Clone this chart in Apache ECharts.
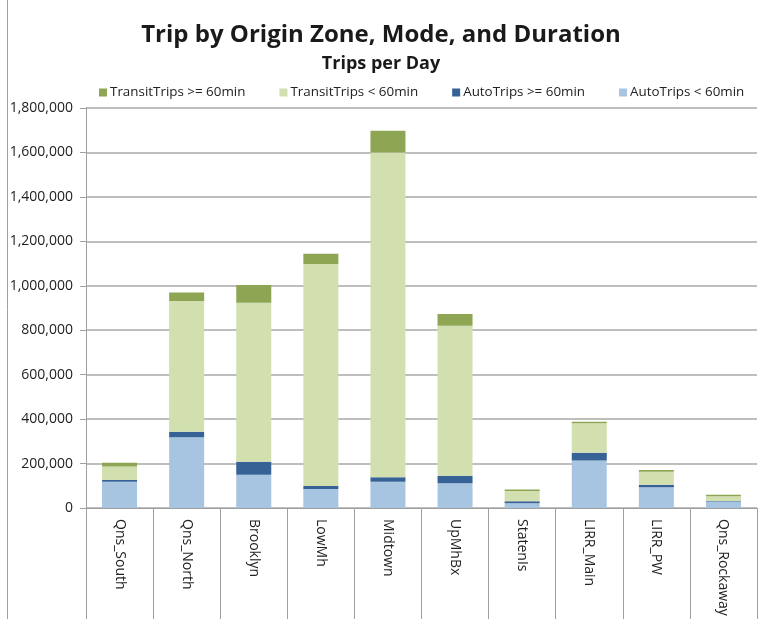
<!DOCTYPE html>
<html>
<head>
<meta charset="utf-8">
<script src="https://cdn.jsdelivr.net/npm/echarts@6/dist/echarts.min.js"></script>
<style>html,body{margin:0;padding:0;background:#fff}#c{width:778px;height:619px}</style>
</head>
<body>
<div id="c"></div>
<script>
var categories = ['Qns_South','Qns_North','Brooklyn','LowMh','Midtown','UpMhBx','StatenIs','LIRR_Main','LIRR_PW','Qns_Rockaway'];
var autoUnder60 = [118000, 318000, 150000, 86000, 118000, 111000, 21000, 214000, 93000, 29000];
var autoOver60 = [8000, 25000, 58000, 13000, 20000, 34000, 9000, 35000, 12000, 2000];
var transitUnder60 = [61000, 588000, 716000, 999000, 1462000, 675000, 47000, 132000, 58000, 22000];
var transitOver60 = [17000, 39000, 80000, 46000, 98000, 53000, 6000, 7000, 8000, 7000];
var seriesNames = ['AutoTrips < 60min','AutoTrips >= 60min','TransitTrips < 60min','TransitTrips >= 60min'];
var legendOrder = ['TransitTrips >= 60min','TransitTrips < 60min','AutoTrips >= 60min','AutoTrips < 60min'];
var colors = ['#a7c4e0','#376296','#d2dfae','#8ea554'];

var font = '"Open Sans", sans-serif';
var chart = echarts.init(document.getElementById('c'));
var dataSets = [autoUnder60, autoOver60, transitUnder60, transitOver60];
var series = dataSets.map(function (d, i) {
  return {
    name: seriesNames[i], type: 'bar', stack: 'all', data: d,
    barWidth: 35,
    itemStyle: { color: colors[i] }
  };
});
chart.setOption({
  animation: false,
  textStyle: { fontFamily: font },
  title: [
    { text: 'Trip by Origin Zone, Mode, and Duration', left: 376, top: 18, textAlign: 'center',
      textStyle: { fontSize: 24, fontWeight: 'bold', color: '#1a1a1a', fontFamily: font } },
    { text: 'Trips per Day', left: 376, top: 50, textAlign: 'center',
      textStyle: { fontSize: 18, fontWeight: 'bold', color: '#1a1a1a', fontFamily: font } }
  ],
  legend: {
    data: legendOrder, top: 81, left: 94, itemWidth: 8, itemHeight: 8, itemGap: 34, icon: 'rect',
    textStyle: { fontSize: 13.4, color: '#222', fontFamily: font, padding: [0,0,0,-2] }
  },
  grid: { left: 86, right: 21, top: 108, bottom: 111, containLabel: false },
  xAxis: {
    type: 'category', data: categories,
    axisLine: { lineStyle: { color: '#a0a0a0' } },
    axisTick: { show: true, length: 115, alignWithLabel: false, lineStyle: { color: '#a0a0a0' } },
    axisLabel: { rotate: -90, fontSize: 14, color: '#222', margin: 11, interval: 0, fontFamily: font }
  },
  yAxis: {
    type: 'value', min: 0, max: 1800000, interval: 200000,
    axisLine: { show: true, lineStyle: { color: '#a0a0a0' } },
    axisTick: { show: true, length: 6, lineStyle: { color: '#a0a0a0' } },
    splitLine: { lineStyle: { color: '#a8a8a8', width: 1.5 } },
    axisLabel: { fontSize: 14, color: '#222', margin: 13, fontFamily: font,
      formatter: function (v) { return v.toLocaleString('en-US'); } }
  },
  graphic: [
    { type: 'line', shape: { x1: 7.5, y1: 0, x2: 7.5, y2: 619 }, style: { stroke: '#a0a0a0', lineWidth: 1 } }
  ],
  series: series
});
</script>
</body>
</html>
